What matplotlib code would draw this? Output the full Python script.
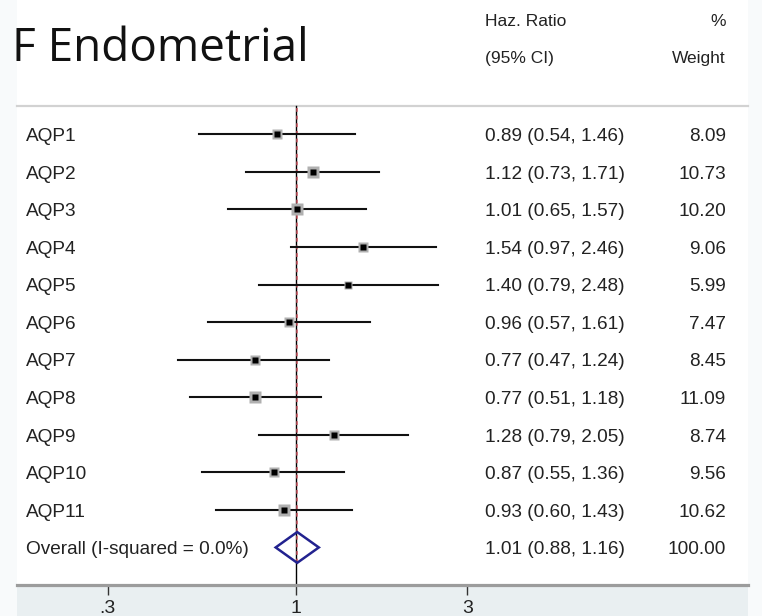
import matplotlib
matplotlib.use("Agg")
import matplotlib.pyplot as plt
from matplotlib.patches import Rectangle, Polygon

# Study rows
labels = ["AQP1", "AQP2", "AQP3", "AQP4", "AQP5", "AQP6",
          "AQP7", "AQP8", "AQP9", "AQP10", "AQP11"]
hr = [0.89, 1.12, 1.01, 1.54, 1.40, 0.96, 0.77, 0.77, 1.28, 0.87, 0.93]
lo = [0.54, 0.73, 0.65, 0.97, 0.79, 0.57, 0.47, 0.51, 0.79, 0.55, 0.60]
hi = [1.46, 1.71, 1.57, 2.46, 2.48, 1.61, 1.24, 1.18, 2.05, 1.36, 1.43]
weight = [8.09, 10.73, 10.20, 9.06, 5.99, 7.47, 8.45, 11.09, 8.74, 9.56, 10.62]

# Pooled estimate
overall_label = "Overall (I-squared = 0.0%)"
overall_hr, overall_lo, overall_hi = 1.01, 0.88, 1.16
overall_weight = 100.00

tick_vals = [0.3, 1, 3]
tick_labels = [".3", "1", "3"]

W, H = 762, 616
fig = plt.figure(figsize=(W / 100, H / 100), dpi=100, facecolor="#f8fafb")

def fx(px):
    return px / W

def fy(py):
    return 1 - py / H

# plot region backgrounds
fig.patches.append(Rectangle((fx(17), fy(585)), fx(748) - fx(17), fy(0) - fy(585),
                             transform=fig.transFigure, facecolor="white",
                             edgecolor="none", zorder=-5))
fig.patches.append(Rectangle((fx(17), fy(616)), fx(748) - fx(17), fy(585) - fy(616),
                             transform=fig.transFigure, facecolor="#e9eff1",
                             edgecolor="none", zorder=-5))
# separator below the header
fig.lines.append(plt.Line2D([fx(17), fx(748)], [fy(106), fy(106)],
                            transform=fig.transFigure, color="#d2d2d2", lw=1.6,
                            zorder=-4))

ax = fig.add_axes([fx(17), fy(585), fx(748) - fx(17), fy(106) - fy(585)])
ax.set_zorder(2)
ax.set_facecolor("none")
ax.set_xscale("log")
ax.set_xlim(0.168, 18.1)
n = len(labels)
ax.set_ylim(12.0, -0.754)

for s in ["top", "left", "right"]:
    ax.spines[s].set_visible(False)
ax.spines["bottom"].set_color("#9c9c9c")
ax.spines["bottom"].set_linewidth(2.3)
ax.set_yticks([])
ax.set_xticks(tick_vals)
ax.set_xticklabels(tick_labels)
ax.xaxis.set_minor_locator(matplotlib.ticker.NullLocator())
ax.tick_params(axis="x", direction="out", length=7, width=1, color="#333333",
               pad=4, labelsize=14, labelcolor="#222222")
for t in ax.get_xticklabels():
    t.set_fontfamily("Liberation Sans")

# reference line at 1 and pooled-estimate line
ax.axvline(1, color="black", lw=1.0, zorder=2, clip_on=False)
ax.plot([overall_hr, overall_hr], [-0.7, n + 0.4], color="#cc5560", lw=1.1,
        dashes=(2.5, 2.5), zorder=2)

ys = list(range(n))
for y, h, l, u, w in zip(ys, hr, lo, hi, weight):
    ax.plot([l, u], [y, y], color="#111111", lw=1.5, zorder=3)
    side = 8.2 * (w / 10.73) ** 0.5
    ax.plot([h], [y], marker="s", ms=side, color="#b0b0b0", mec="none", zorder=4)
    ax.plot([h], [y], marker="s", ms=4.0, color="black", mec="none", zorder=5)

# pooled diamond
dy = 0.41
ax.add_patch(Polygon([(overall_lo, n), (overall_hr, n - dy), (overall_hi, n),
                      (overall_hr, n + dy)], closed=True, fill=False,
                     edgecolor="#22228f", lw=1.8, zorder=5))

font = "Liberation Sans"
fs = 13.7
txt = dict(fontfamily=font, fontsize=fs, color="#222222", va="baseline",
           textcoords="offset points")

def row_text(s, xfrac, y, ha):
    ax.annotate(s, xy=(xfrac, y), xycoords=("axes fraction", "data"),
                xytext=(0, -4.9), ha=ha, annotation_clip=False, **txt)

xl = (26 - 17) / (748 - 17)
xc = (485 - 17) / (748 - 17)
xw = (726 - 17) / (748 - 17)
for y, lab, h, l, u, w in zip(ys, labels, hr, lo, hi, weight):
    row_text(lab, xl, y, "left")
    row_text(f"{h:.2f} ({l:.2f}, {u:.2f})", xc, y, "left")
    row_text(f"{w:.2f}", xw, y, "right")
row_text(overall_label, xl, n, "left")
row_text(f"{overall_hr:.2f} ({overall_lo:.2f}, {overall_hi:.2f})", xc, n, "left")
row_text(f"{overall_weight:.2f}", xw, n, "right")

# column headers and panel title
hdr = dict(fontfamily=font, fontsize=12.5, color="#222222", va="center",
           transform=fig.transFigure)
fig.text(fx(485), fy(21), "Haz. Ratio", ha="left", **hdr)
fig.text(fx(485), fy(58), "(95% CI)", ha="left", **hdr)
fig.text(fx(726), fy(21), "%", ha="right", **hdr)
fig.text(fx(726), fy(58), "Weight", ha="right", **hdr)
fig.text(fx(12), fy(61), "F Endometrial", ha="left", va="baseline",
         fontfamily="Open Sans", fontsize=33, color="#111111")

fig.savefig("out.png", dpi=100, facecolor=fig.get_facecolor())
